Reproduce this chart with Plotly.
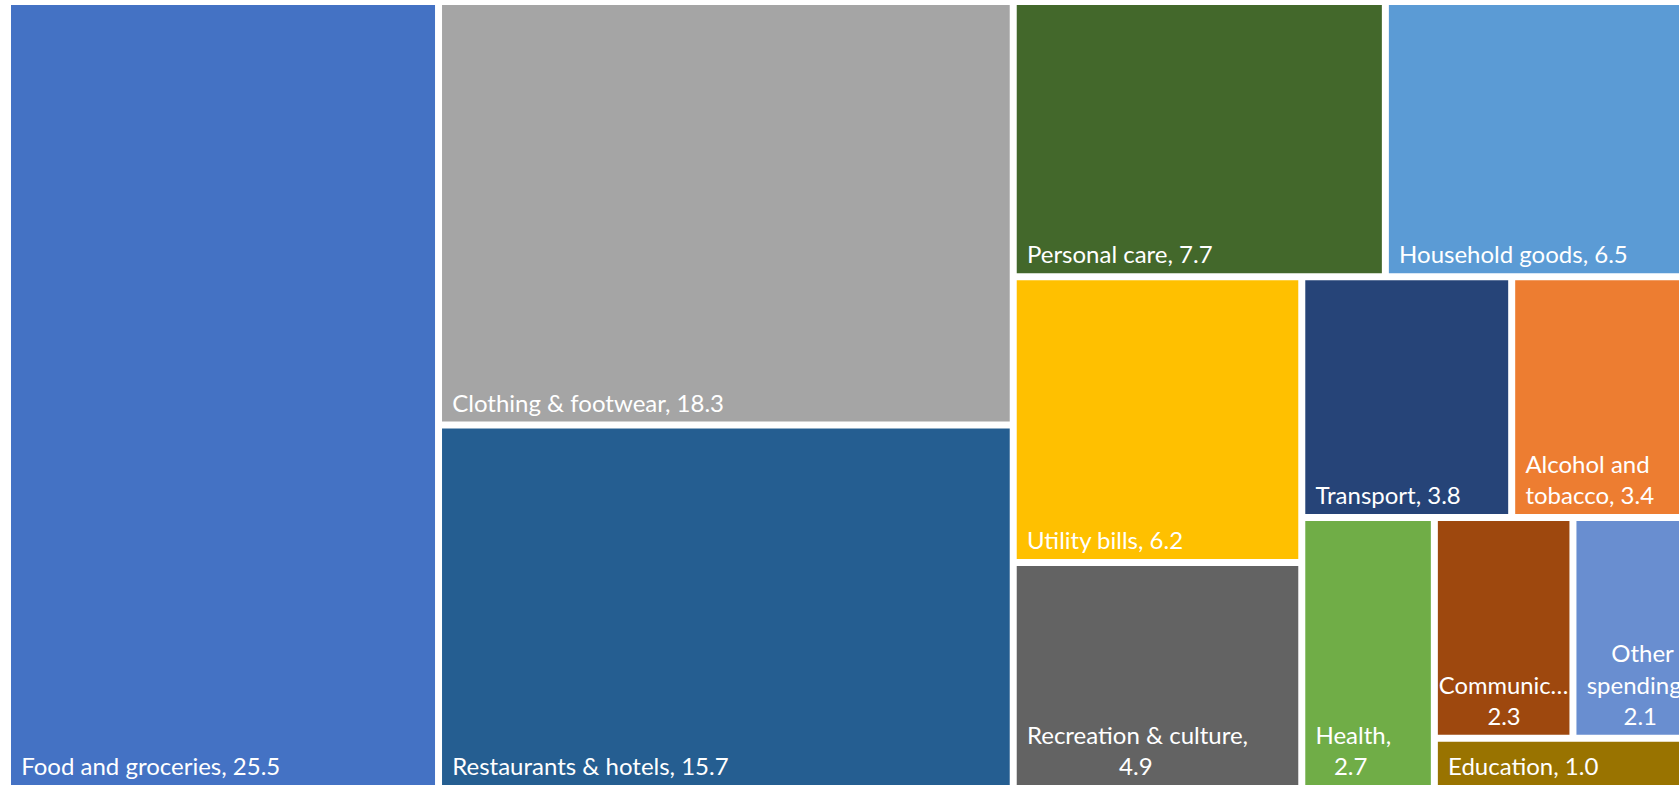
import plotly.graph_objects as go

# Household spending shares by category (percent of total)
categories = [
    "Food and groceries", "Clothing & footwear", "Restaurants & hotels",
    "Personal care", "Household goods", "Utility bills",
    "Recreation & culture", "Transport", "Alcohol and tobacco",
    "Health", "Communication", "Other spending", "Education",
]
shares = [25.5, 18.3, 15.7, 7.7, 6.5, 6.2, 4.9, 3.8, 3.4, 2.7, 2.3, 2.1, 1.0]

# Name part of each tile label (wrapped where the tile is narrow)
label_names = [
    "Food and groceries, ", "Clothing & footwear, ", "Restaurants & hotels, ",
    "Personal care, ", "Household goods, ", "Utility bills, ",
    "Recreation & culture,<br>", "Transport, ", "Alcohol and<br>tobacco, ",
    "Health,<br>", "Communic…<br>", "Other<br>spending,<br>", "Education, ",
]

colors = [
    "#4472C4", "#A5A5A5", "#255E91", "#43682B", "#5B9BD5", "#FFC000",
    "#636363", "#264478", "#ED7D31", "#70AD47", "#9E480E", "#698ED0",
    "#997300",
]

# ---- label styling -------------------------------------------------------
NBSP = "\u00a0"
# inset of labels from the tile edge
LEFT_PAD = '<span style="font-size:18px">' + NBSP * 2 + "</span>"
no_left_pad = {"Communication"}
# extra indent per wrapped line so short lines sit centred under long ones
line_indent = {
    "Recreation & culture": [0, 15],
    "Health": [0, 3],
    "Communication": [0, 8],
    "Other spending": [4, 0, 6],
    "Alcohol and tobacco": [0, 0],
}
# invisible lowered spacer that lifts the label off the tile's bottom edge
BOTTOM_SPACER = '<sub><span style="font-size:20px">' + NBSP + "</span></sub>"


def tile_label(name, prefix, value):
    lines = f"{prefix}{value:.1f}".split("<br>")
    pad = "" if name in no_left_pad else LEFT_PAD
    indents = line_indent.get(name, [0] * len(lines))
    lines = [pad + NBSP * k + ln for ln, k in zip(lines, indents)]
    lines[-1] += BOTTOM_SPACER
    return "<br>".join(lines)


# The three smallest categories share one block in the bottom-right corner
small_group = "Smaller categories"
small_members = ["Communication", "Other spending", "Education"]

ids, parents, values, texts, fills = [], [], [], [], []
for name, share, lbl, col in zip(categories, shares, label_names, colors):
    if name == small_members[0]:
        ids.append(small_group)
        parents.append("")
        values.append(0)
        texts.append("")
        fills.append("white")
    ids.append(name)
    parents.append(small_group if name in small_members else "")
    values.append(share)
    texts.append(tile_label(name, lbl, share))
    fills.append(col)

fig = go.Figure(go.Treemap(
    ids=ids,
    labels=ids,
    parents=parents,
    values=values,
    branchvalues="remainder",
    text=texts,
    textinfo="text",
    textposition="bottom left",
    textfont=dict(family="Lato", size=24, color="white"),
    marker=dict(colors=fills, line=dict(color="white", width=4),
                pad=dict(t=0, l=0, r=0, b=0)),
    tiling=dict(packing="squarify", squarifyratio=1),
    pathbar=dict(visible=False),
    sort=False,
    hoverinfo="skip",
))

fig.update_layout(
    width=1698,
    height=787,
    autosize=False,
    margin=dict(l=9, r=0, t=3, b=0),
    paper_bgcolor="white",
)

fig.write_html(
    "out.html",
    post_script="document.documentElement.style.overflow='hidden';document.body.style.overflow='hidden';",
)
